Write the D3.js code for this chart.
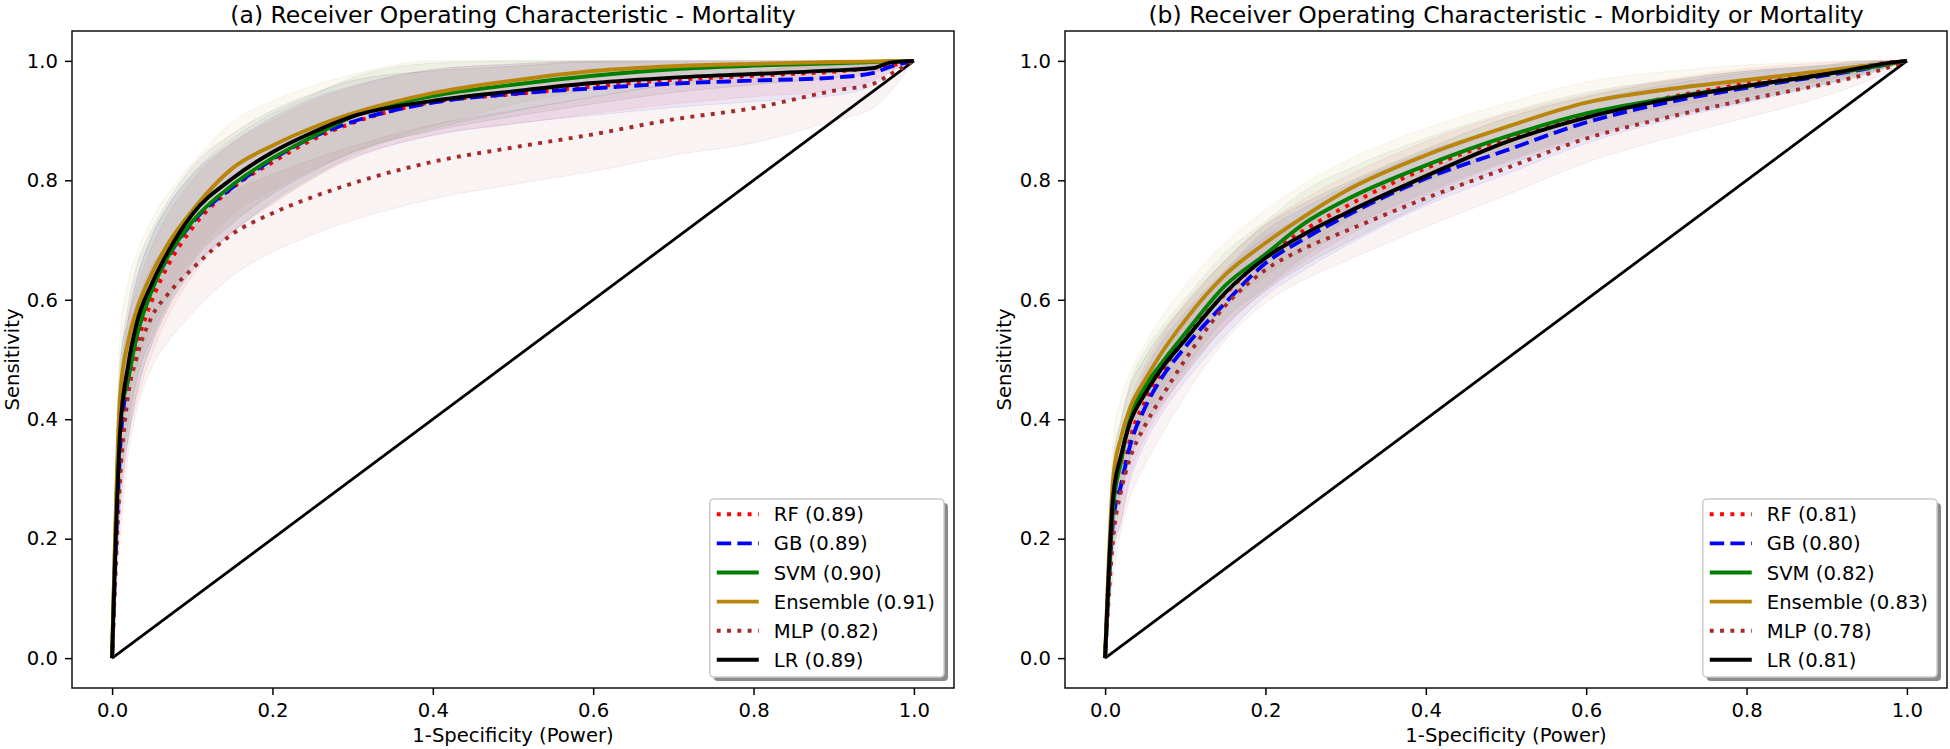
<!DOCTYPE html>
<html>
<head>
<meta charset="utf-8">
<script src="https://cdn.jsdelivr.net/npm/d3@7"></script>
<style>
    body { margin: 0; background: #fff; }
    svg { display: block; font-family: "DejaVu Sans", sans-serif; }
    .plot-title { font-size: 23.5px; fill: #000; }
    .axis-title { font-size: 19.6px; fill: #000; }
    .legend-label { font-size: 19.6px; fill: #000; }
</style>
</head>
<body>
<div id="chart"></div>
<script>
// shared false positive rate grid (1-specificity)
const fprPoints = [0, 0.01, 0.02, 0.03, 0.05, 0.07, 0.1, 0.15, 0.2, 0.25, 0.3, 0.4, 0.5, 0.6, 0.7, 0.8, 0.9, 0.95, 0.97, 1.0];
const chanceLine = [0, 1];
const tickValues = [0, 0.2, 0.4, 0.6, 0.8, 1.0];
const modelNames = ["RF", "GB", "SVM", "Ensemble", "MLP", "LR"];
const aucMortality = ["0.89", "0.89", "0.90", "0.91", "0.82", "0.89"];
const aucMorbidity = ["0.81", "0.80", "0.82", "0.83", "0.78", "0.81"];

// (a) mortality: mean sensitivity per model
const rfTprA = [0, 0.34, 0.465, 0.52, 0.60, 0.658, 0.72, 0.787, 0.83, 0.868, 0.896, 0.931, 0.944, 0.957, 0.968, 0.975, 0.982, 0.988, 0.992, 1];
const gbTprA = [0, 0.35, 0.47, 0.535, 0.618, 0.672, 0.729, 0.788, 0.835, 0.872, 0.898, 0.930, 0.945, 0.954, 0.962, 0.967, 0.972, 0.980, 0.990, 1];
const svmTprA = [0, 0.40, 0.466, 0.535, 0.617, 0.673, 0.731, 0.792, 0.837, 0.873, 0.907, 0.941, 0.960, 0.975, 0.986, 0.992, 0.996, 0.998, 0.999, 1];
const ensTprA = [0, 0.44, 0.53, 0.58, 0.645, 0.694, 0.749, 0.82, 0.858, 0.888, 0.912, 0.946, 0.967, 0.983, 0.991, 0.995, 0.998, 0.999, 0.9995, 1];
const mlpTprA = [0, 0.30, 0.44, 0.50, 0.573, 0.61, 0.652, 0.71, 0.745, 0.772, 0.795, 0.831, 0.855, 0.877, 0.902, 0.921, 0.950, 0.962, 0.977, 1];
const lrTprA = [0, 0.38, 0.49, 0.557, 0.628, 0.681, 0.743, 0.803, 0.847, 0.880, 0.907, 0.933, 0.949, 0.963, 0.972, 0.978, 0.984, 0.988, 0.997, 1];

// (a) mortality: std of sensitivity per model
const rfStdA = [0, 0.10, 0.10, 0.095, 0.09, 0.085, 0.08, 0.075, 0.07, 0.065, 0.06, 0.055, 0.05, 0.045, 0.04, 0.035, 0.03, 0.02, 0.01, 0];
const gbStdA = [0, 0.10, 0.10, 0.095, 0.09, 0.085, 0.08, 0.075, 0.07, 0.065, 0.06, 0.055, 0.05, 0.045, 0.04, 0.035, 0.03, 0.02, 0.01, 0];
const svmStdA = [0, 0.10, 0.10, 0.095, 0.09, 0.085, 0.08, 0.078, 0.075, 0.07, 0.065, 0.055, 0.045, 0.035, 0.025, 0.015, 0.008, 0.005, 0.003, 0];
const ensStdA = [0, 0.10, 0.10, 0.095, 0.09, 0.085, 0.08, 0.078, 0.075, 0.07, 0.065, 0.055, 0.04, 0.03, 0.02, 0.012, 0.007, 0.004, 0.003, 0];
const mlpStdA = [0, 0.10, 0.10, 0.09, 0.085, 0.08, 0.075, 0.07, 0.065, 0.063, 0.062, 0.062, 0.062, 0.062, 0.06, 0.058, 0.05, 0.04, 0.03, 0];
const lrStdA = [0, 0.10, 0.10, 0.095, 0.09, 0.085, 0.08, 0.075, 0.07, 0.065, 0.06, 0.05, 0.042, 0.035, 0.025, 0.018, 0.012, 0.008, 0.004, 0];

// (b) morbidity or mortality: mean sensitivity per model
const rfTprB = [0, 0.24, 0.29, 0.36, 0.43, 0.478, 0.537, 0.61, 0.672, 0.718, 0.756, 0.82, 0.87, 0.908, 0.938, 0.962, 0.982, 0.992, 0.996, 1];
const gbTprB = [0, 0.23, 0.29, 0.35, 0.42, 0.468, 0.521, 0.595, 0.661, 0.703, 0.74, 0.803, 0.85, 0.897, 0.93, 0.955, 0.976, 0.987, 0.993, 1];
const svmTprB = [0, 0.25, 0.33, 0.395, 0.455, 0.493, 0.544, 0.624, 0.676, 0.729, 0.767, 0.825, 0.873, 0.912, 0.937, 0.958, 0.978, 0.988, 0.993, 1];
const ensTprB = [0, 0.30, 0.37, 0.415, 0.466, 0.51, 0.566, 0.642, 0.695, 0.741, 0.782, 0.842, 0.889, 0.93, 0.952, 0.968, 0.984, 0.992, 0.995, 1];
const mlpTprB = [0, 0.20, 0.28, 0.33, 0.39, 0.436, 0.50, 0.59, 0.65, 0.687, 0.715, 0.77, 0.82, 0.87, 0.905, 0.935, 0.962, 0.978, 0.986, 1];
const lrTprB = [0, 0.27, 0.34, 0.39, 0.443, 0.484, 0.533, 0.612, 0.67, 0.711, 0.745, 0.807, 0.864, 0.905, 0.935, 0.958, 0.978, 0.99, 0.995, 1];

// (b) morbidity or mortality: std of sensitivity per model
const rfStdB = [0, 0.06, 0.06, 0.06, 0.06, 0.06, 0.058, 0.055, 0.055, 0.052, 0.05, 0.045, 0.04, 0.035, 0.03, 0.025, 0.015, 0.01, 0.007, 0];
const gbStdB = [0, 0.06, 0.06, 0.06, 0.06, 0.06, 0.058, 0.055, 0.055, 0.052, 0.05, 0.045, 0.04, 0.035, 0.03, 0.025, 0.015, 0.01, 0.007, 0];
const svmStdB = [0, 0.065, 0.065, 0.06, 0.06, 0.06, 0.058, 0.055, 0.055, 0.055, 0.05, 0.045, 0.04, 0.035, 0.03, 0.025, 0.015, 0.01, 0.007, 0];
const ensStdB = [0, 0.065, 0.065, 0.06, 0.06, 0.06, 0.058, 0.055, 0.055, 0.055, 0.05, 0.045, 0.04, 0.035, 0.03, 0.025, 0.015, 0.01, 0.007, 0];
const mlpStdB = [0, 0.065, 0.065, 0.065, 0.065, 0.063, 0.06, 0.058, 0.055, 0.052, 0.05, 0.048, 0.045, 0.04, 0.035, 0.03, 0.02, 0.012, 0.008, 0];
const lrStdB = [0, 0.06, 0.06, 0.06, 0.06, 0.06, 0.058, 0.055, 0.055, 0.052, 0.05, 0.045, 0.04, 0.035, 0.03, 0.025, 0.015, 0.01, 0.007, 0];

// line styles, same order as modelNames
const modelStyles = [
    { color: "#ff0000", dash: "3.9,6.4" },
    { color: "#0000ff", dash: "14.4,6.2" },
    { color: "#008000", dash: null },
    { color: "#b8860b", dash: null },
    { color: "#a52a2a", dash: "3.9,6.4" },
    { color: "#000000", dash: null }
];
const lineWidth = 3.9;

const svg = d3.select("#chart").append("svg")
    .attr("width", 1950)
    .attr("height", 749);

renderRocPanel(svg, {
    id: "a",
    left: 72, right: 954, top: 31, bottom: 688,
    title: "(a) Receiver Operating Characteristic - Mortality",
    tprs: [rfTprA, gbTprA, svmTprA, ensTprA, mlpTprA, lrTprA],
    stds: [rfStdA, gbStdA, svmStdA, ensStdA, mlpStdA, lrStdA],
    aucs: aucMortality,
    yLabelX: 19
});

renderRocPanel(svg, {
    id: "b",
    left: 1065, right: 1947, top: 31, bottom: 688,
    title: "(b) Receiver Operating Characteristic - Morbidity or Mortality",
    tprs: [rfTprB, gbTprB, svmTprB, ensTprB, mlpTprB, lrTprB],
    stds: [rfStdB, gbStdB, svmStdB, ensStdB, mlpStdB, lrStdB],
    aucs: aucMorbidity,
    yLabelX: 1011
});

function renderRocPanel(svg, panel) {
    const xScale = d3.scaleLinear()
        .domain([-0.05, 1.05])
        .range([panel.left, panel.right]);
    const yScale = d3.scaleLinear()
        .domain([-0.05, 1.05])
        .range([panel.bottom, panel.top]);

    const g = svg.append("g");

    g.append("clipPath")
        .attr("id", "clip-" + panel.id)
        .append("rect")
        .attr("x", panel.left)
        .attr("y", panel.top)
        .attr("width", panel.right - panel.left)
        .attr("height", panel.bottom - panel.top);

    const plotArea = g.append("g")
        .attr("clip-path", `url(#clip-${panel.id})`);

    // std bands
    const area = d3.area()
        .curve(d3.curveMonotoneX)
        .x(function (d) { return xScale(d[0]); })
        .y0(function (d) { return yScale(Math.max(d[1] - d[2], 0)); })
        .y1(function (d) { return yScale(Math.min(d[1] + d[2], 1)); });

    panel.tprs.forEach(function (tpr, i) {
        const rows = fprPoints.map(function (f, j) { return [f, tpr[j], panel.stds[i][j]]; });
        plotArea.append("path")
            .datum(rows)
            .attr("d", area)
            .attr("fill", modelStyles[i].color)
            .attr("fill-opacity", 0.055)
            .attr("stroke", modelStyles[i].color)
            .attr("stroke-opacity", 0.08)
            .attr("stroke-width", 1);
    });

    // chance diagonal
    plotArea.append("path")
        .datum(chanceLine)
        .attr("d", d3.line()
            .x(function (d) { return xScale(d); })
            .y(function (d) { return yScale(d); }))
        .attr("fill", "none")
        .attr("stroke", "#000")
        .attr("stroke-width", 2.8);

    // mean curves
    const line = d3.line()
        .curve(d3.curveMonotoneX)
        .x(function (d) { return xScale(d[0]); })
        .y(function (d) { return yScale(d[1]); });

    panel.tprs.forEach(function (tpr, i) {
        const rows = fprPoints.map(function (f, j) { return [f, tpr[j]]; });
        plotArea.append("path")
            .datum(rows)
            .attr("d", line)
            .attr("fill", "none")
            .attr("stroke", modelStyles[i].color)
            .attr("stroke-width", lineWidth)
            .attr("stroke-dasharray", modelStyles[i].dash);
    });

    // axes
    const xAxis = g.append("g")
        .attr("transform", `translate(0, ${panel.bottom})`)
        .call(d3.axisBottom(xScale)
            .tickValues(tickValues)
            .tickFormat(d3.format(".1f"))
            .tickSize(7)
            .tickPadding(8));
    const yAxis = g.append("g")
        .attr("transform", `translate(${panel.left}, 0)`)
        .call(d3.axisLeft(yScale)
            .tickValues(tickValues)
            .tickFormat(d3.format(".1f"))
            .tickSize(7)
            .tickPadding(7));
    [xAxis, yAxis].forEach(function (ax) {
        ax.select(".domain").remove();
        ax.selectAll(".tick line").attr("stroke", "#000").attr("stroke-width", 1.5);
        ax.selectAll(".tick text")
            .attr("fill", "#000")
            .style("font-family", "DejaVu Sans, sans-serif")
            .style("font-size", "19.6px");
    });

    // frame
    g.append("rect")
        .attr("x", panel.left)
        .attr("y", panel.top)
        .attr("width", panel.right - panel.left)
        .attr("height", panel.bottom - panel.top)
        .attr("fill", "none")
        .attr("stroke", "#111")
        .attr("stroke-width", 1.5);

    // titles
    g.append("text")
        .attr("class", "plot-title")
        .attr("x", (panel.left + panel.right) / 2)
        .attr("y", 22.5)
        .attr("text-anchor", "middle")
        .text(panel.title);

    g.append("text")
        .attr("class", "axis-title")
        .attr("x", (panel.left + panel.right) / 2)
        .attr("y", 742)
        .attr("text-anchor", "middle")
        .text("1-Specificity (Power)");

    g.append("text")
        .attr("class", "axis-title")
        .attr("transform", `translate(${panel.yLabelX}, ${(panel.top + panel.bottom) / 2}) rotate(-90)`)
        .attr("text-anchor", "middle")
        .text("Sensitivity");

    // legend
    const legend = g.append("g");
    const shadow = legend.append("rect");
    const frame = legend.append("rect");
    const rowStep = 29.1;
    const labels = modelNames.map(function (name, i) {
        return legend.append("text")
            .attr("class", "legend-label")
            .attr("x", 64)
            .attr("y", 15.3 + rowStep * i + 7)
            .text(`${name} (${panel.aucs[i]})`);
    });
    modelNames.forEach(function (name, i) {
        legend.append("line")
            .attr("x1", 7)
            .attr("x2", 49)
            .attr("y1", 15.3 + rowStep * i)
            .attr("y2", 15.3 + rowStep * i)
            .attr("stroke", modelStyles[i].color)
            .attr("stroke-width", lineWidth)
            .attr("stroke-dasharray", modelStyles[i].dash);
    });
    const maxText = d3.max(labels, function (t) { return t.node().getComputedTextLength(); });
    const boxWidth = 64 + maxText + 9;
    const boxHeight = 178;
    shadow
        .attr("x", 4).attr("y", 4)
        .attr("width", boxWidth).attr("height", boxHeight)
        .attr("rx", 3.9)
        .attr("fill", "#000")
        .attr("fill-opacity", 0.45);
    frame
        .attr("width", boxWidth).attr("height", boxHeight)
        .attr("rx", 3.9)
        .attr("fill", "#fff")
        .attr("stroke", "#cccccc")
        .attr("stroke-width", 1.5);
    legend.attr("transform", `translate(${panel.right - 10 - boxWidth}, ${panel.bottom - 11 - boxHeight})`);
}
</script>
</body>
</html>
